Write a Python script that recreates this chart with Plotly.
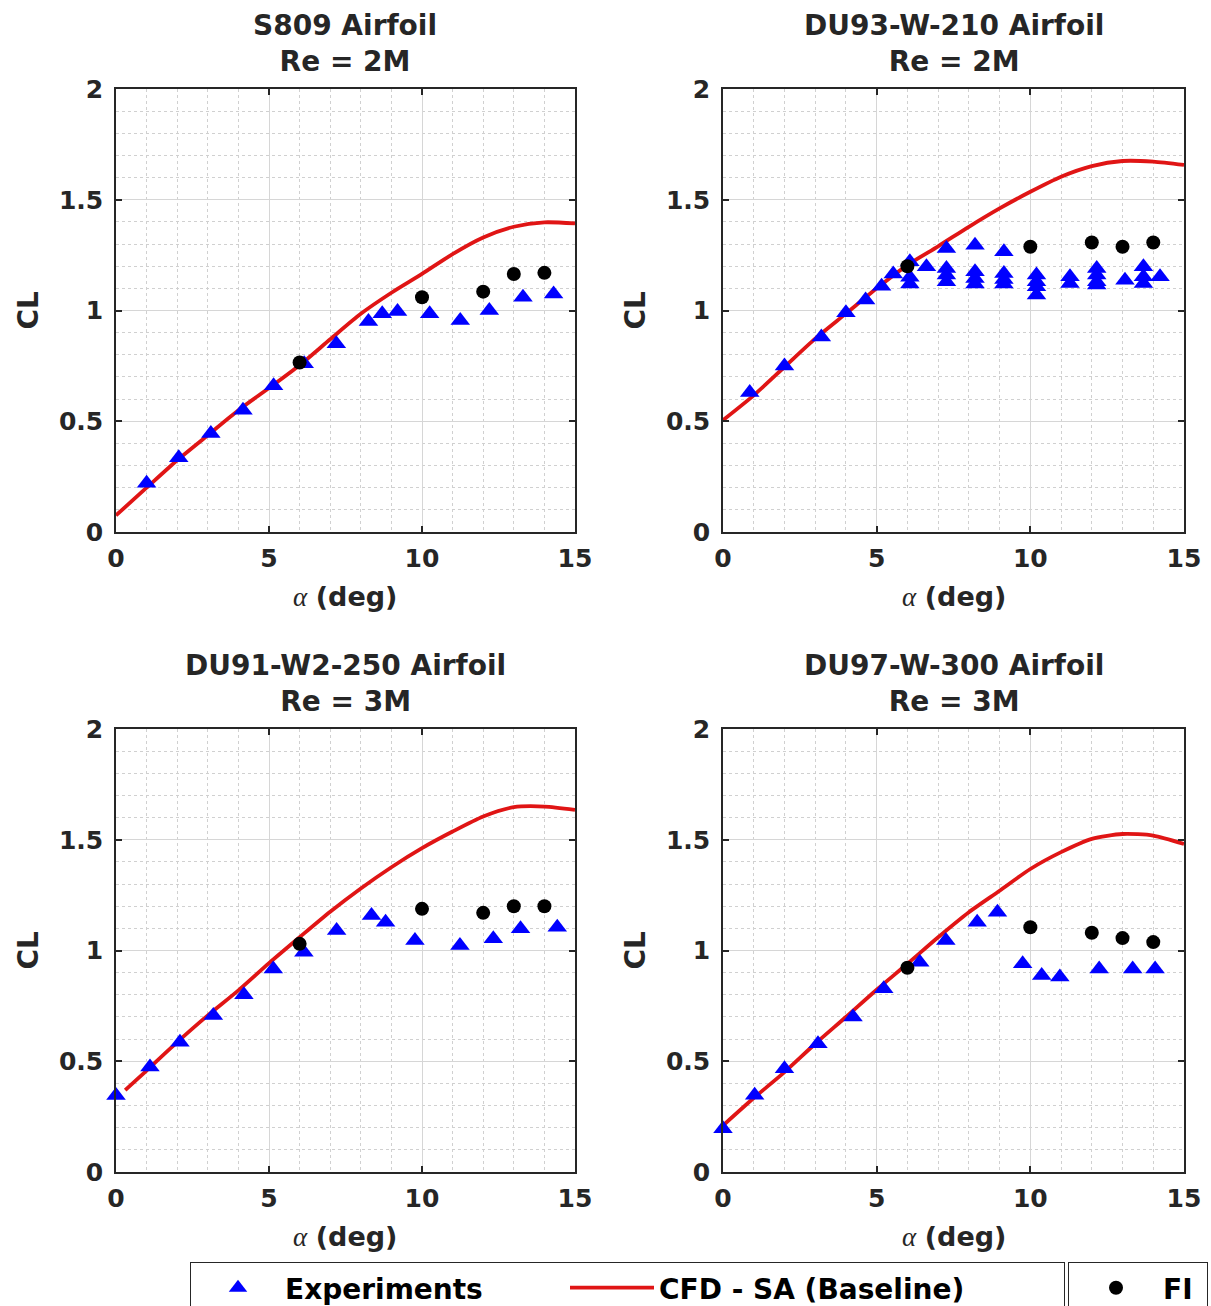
import plotly.graph_objects as go

# ---- data: lift coefficient vs angle of attack ----
panel_titles = ["S809 Airfoil<br>Re = 2M", "DU93-W-210 Airfoil<br>Re = 2M",
                "DU91-W2-250 Airfoil<br>Re = 3M", "DU97-W-300 Airfoil<br>Re = 3M"]

# S809, Re = 2M
s809_exp_a = [1.0, 2.05, 3.1, 4.15, 5.15, 6.15, 7.2, 8.25, 8.7, 9.2, 10.25, 11.25, 12.2, 13.3, 14.3]
s809_exp_cl = [0.22, 0.335, 0.445, 0.55, 0.66, 0.76, 0.85, 0.95, 0.985, 0.995, 0.985, 0.955, 1.0, 1.06, 1.075]
s809_cfd_a = [0, 1, 2, 3, 4, 5, 6, 7, 8, 9, 10, 11, 12, 13, 14, 15]
s809_cfd_cl = [0.075, 0.2, 0.324, 0.437, 0.55, 0.65, 0.753, 0.87, 0.985, 1.08, 1.165, 1.255, 1.33, 1.378, 1.398, 1.393]
s809_fi_a = [6, 10, 12, 13, 14]
s809_fi_cl = [0.765, 1.06, 1.085, 1.165, 1.17]

# DU93-W-210, Re = 2M
du93_exp_a = [0.87, 2.0, 3.2, 4.0, 4.64, 5.16, 5.54, 6.08, 6.08, 6.08, 6.62, 7.27, 7.27, 7.27, 7.27,
              8.2, 8.2, 8.2, 8.2, 9.14, 9.14, 9.14, 9.14, 10.2, 10.2, 10.2, 10.2, 11.29, 11.29,
              12.16, 12.16, 12.16, 12.16, 13.08, 13.68, 13.68, 13.68, 14.22, 15.05]
du93_exp_cl = [0.63, 0.75, 0.88, 0.99, 1.047, 1.11, 1.165, 1.22, 1.15, 1.12, 1.197, 1.28, 1.19, 1.16, 1.13,
               1.295, 1.175, 1.145, 1.12, 1.265, 1.167, 1.14, 1.12, 1.16, 1.13, 1.107, 1.07, 1.152, 1.122,
               1.19, 1.16, 1.13, 1.115, 1.137, 1.197, 1.152, 1.122, 1.152, 1.13]
du93_cfd_a = [0, 1, 2, 3, 4, 5, 6, 7, 8, 9, 10, 11, 12, 13, 14, 15]
du93_cfd_cl = [0.505, 0.617, 0.745, 0.873, 0.986, 1.10, 1.205, 1.29, 1.378, 1.461, 1.536, 1.604, 1.652, 1.675, 1.672, 1.657]
du93_fi_a = [6, 10, 12, 13, 14]
du93_fi_cl = [1.2, 1.288, 1.307, 1.288, 1.307]

# DU91-W2-250, Re = 3M
du91_exp_a = [0.0, 1.11, 2.09, 3.18, 4.18, 5.14, 6.14, 7.21, 8.35, 8.81, 9.77, 11.24, 12.33, 13.22, 14.42]
du91_exp_cl = [0.345, 0.474, 0.586, 0.707, 0.8, 0.917, 0.992, 1.09, 1.158, 1.128, 1.045, 1.023, 1.053, 1.098, 1.105]
du91_cfd_a = [0.3, 1, 2, 3, 4, 5, 6, 7, 8, 9, 10, 11, 12, 13, 14, 15]
du91_cfd_cl = [0.37, 0.458, 0.586, 0.707, 0.82, 0.943, 1.06, 1.175, 1.28, 1.376, 1.462, 1.537, 1.605, 1.647, 1.65, 1.635]
du91_fi_a = [6, 10, 12, 13, 14]
du91_fi_cl = [1.03, 1.188, 1.17, 1.2, 1.2]

# DU97-W-300, Re = 3M
du97_exp_a = [0.0, 1.03, 2.0, 3.09, 4.23, 5.23, 6.4, 7.25, 8.27, 8.93, 9.75, 10.37, 10.96, 12.24, 13.33, 14.06]
du97_exp_cl = [0.195, 0.346, 0.466, 0.579, 0.7, 0.827, 0.947, 1.045, 1.128, 1.173, 0.94, 0.887, 0.88, 0.917, 0.917, 0.917]
du97_cfd_a = [0, 1, 2, 3, 4, 5, 6, 7, 8, 9, 10, 11, 12, 13, 14, 15]
du97_cfd_cl = [0.21, 0.334, 0.451, 0.579, 0.7, 0.823, 0.94, 1.06, 1.173, 1.27, 1.368, 1.444, 1.504, 1.526, 1.519, 1.481]
du97_fi_a = [6, 10, 12, 13, 14]
du97_fi_cl = [0.922, 1.105, 1.08, 1.056, 1.038]

x_ticks = [0, 5, 10, 15]
y_ticks = [0, 0.5, 1, 1.5, 2]

panels = [
    (s809_exp_a, s809_exp_cl, s809_cfd_a, s809_cfd_cl, s809_fi_a, s809_fi_cl),
    (du93_exp_a, du93_exp_cl, du93_cfd_a, du93_cfd_cl, du93_fi_a, du93_fi_cl),
    (du91_exp_a, du91_exp_cl, du91_cfd_a, du91_cfd_cl, du91_fi_a, du91_fi_cl),
    (du97_exp_a, du97_exp_cl, du97_cfd_a, du97_cfd_cl, du97_fi_a, du97_fi_cl),
]

# ---- layout geometry (pixels on a 1211 x 1306 canvas) ----
W, H = 1211, 1306
col_px = [(116, 575), (723, 1184)]
row_px = [(89, 532), (729, 1172)]

FONT = "DejaVu Sans"
TXT = "#262626"
BLUE = "#0000ff"
RED = "#e01515"

fig = go.Figure()

for i, (ea, ecl, ca, ccl, fa, fcl) in enumerate(panels):
    ax = "" if i == 0 else str(i + 1)
    xref, yref = "x" + ax, "y" + ax
    first = i == 0
    fig.add_trace(go.Scatter(
        x=ca, y=ccl, mode="lines", line=dict(color=RED, width=3.8, shape="spline", smoothing=0.7),
        name="CFD - SA (Baseline)", xaxis=xref, yaxis=yref, showlegend=first,
        legend="legend", legendrank=2, legendwidth=400))
    fig.add_trace(go.Scatter(
        x=ea, y=ecl, mode="markers", cliponaxis=False,
        marker=dict(symbol="triangle-up", size=17, color=BLUE, line=dict(width=0)),
        name="Experiments", xaxis=xref, yaxis=yref, showlegend=first,
        legend="legend", legendrank=1, legendwidth=275))
    fig.add_trace(go.Scatter(
        x=fa, y=fcl, mode="markers", cliponaxis=False,
        marker=dict(symbol="circle", size=14, color="black", line=dict(width=0)),
        name="FI", xaxis=xref, yaxis=yref, showlegend=first, legend="legend2"))

axis_common = dict(
    showline=True, linecolor=TXT, linewidth=1.5, mirror="ticks",
    ticks="inside", ticklen=6, tickwidth=1.5, tickcolor=TXT,
    showgrid=True, gridcolor="#d6d6d6", gridwidth=1, zeroline=False,
    tickfont=dict(family=FONT, size=25, color=TXT, weight="bold"),
    automargin=False,
)

layout = dict(
    width=W, height=H, margin=dict(l=0, r=0, t=0, b=0, autoexpand=False),
    paper_bgcolor="white", plot_bgcolor="white",
    font=dict(family=FONT, color=TXT),
    annotations=[],
)

for i in range(4):
    r, c = divmod(i, 2)
    x0, x1 = col_px[c]
    y0, y1 = row_px[r]
    ax = "" if i == 0 else str(i + 1)
    layout["xaxis" + ax] = dict(
        axis_common, domain=[x0 / W, x1 / W], range=[0, 15], tickvals=x_ticks,
        anchor="y" + ax, ticklabelstandoff=3,
        minor=dict(dtick=1, showgrid=True, gridcolor="#d0d0d0", griddash="3px,3px", gridwidth=1),
    )
    layout["yaxis" + ax] = dict(
        axis_common, domain=[1 - y1 / H, 1 - y0 / H], range=[0, 2], tickvals=y_ticks,
        anchor="x" + ax, ticklabelstandoff=6,
        minor=dict(dtick=0.1, showgrid=True, gridcolor="#d0d0d0", griddash="3px,3px", gridwidth=1),
    )
    xc = (x0 + x1) / 2
    # panel title
    layout["annotations"].append(dict(
        text="<b>" + panel_titles[i] + "</b>", x=xc / W, y=1 - (y0 - 46) / H,
        xref="paper", yref="paper", xanchor="center", yanchor="middle", showarrow=False,
        font=dict(family=FONT, size=28, color=TXT)))
    # x-axis label
    layout["annotations"].append(dict(
        text="<span style='font-family:Liberation Serif;font-weight:normal'><i>α</i></span> <b>(deg)</b>",
        x=xc / W, y=1 - (y1 + 64) / H,
        xref="paper", yref="paper", xanchor="center", yanchor="middle", showarrow=False,
        font=dict(family=FONT, size=27, color=TXT)))
    # y-axis label
    layout["annotations"].append(dict(
        text="<b>CL</b>", x=(x0 - 88) / W, y=1 - ((y0 + y1) / 2) / H, textangle=-90,
        xref="paper", yref="paper", xanchor="center", yanchor="middle", showarrow=False,
        font=dict(family=FONT, size=28, color=TXT)))

legend_font = dict(family=FONT, size=28, color="black", weight="bold")
layout["legend"] = dict(
    orientation="h", x=190 / W, xanchor="left", y=44 / H, yanchor="top",
    bgcolor="white", bordercolor=TXT, borderwidth=1, font=legend_font,
    itemwidth=84, tracegroupgap=0, traceorder="normal")
layout["legend2"] = dict(
    orientation="h", x=1068 / W, xanchor="left", y=44 / H, yanchor="top",
    bgcolor="white", bordercolor=TXT, borderwidth=1, font=legend_font,
    itemwidth=84, entrywidth=39)

fig.update_layout(**layout)
fig.write_html("out.html")
